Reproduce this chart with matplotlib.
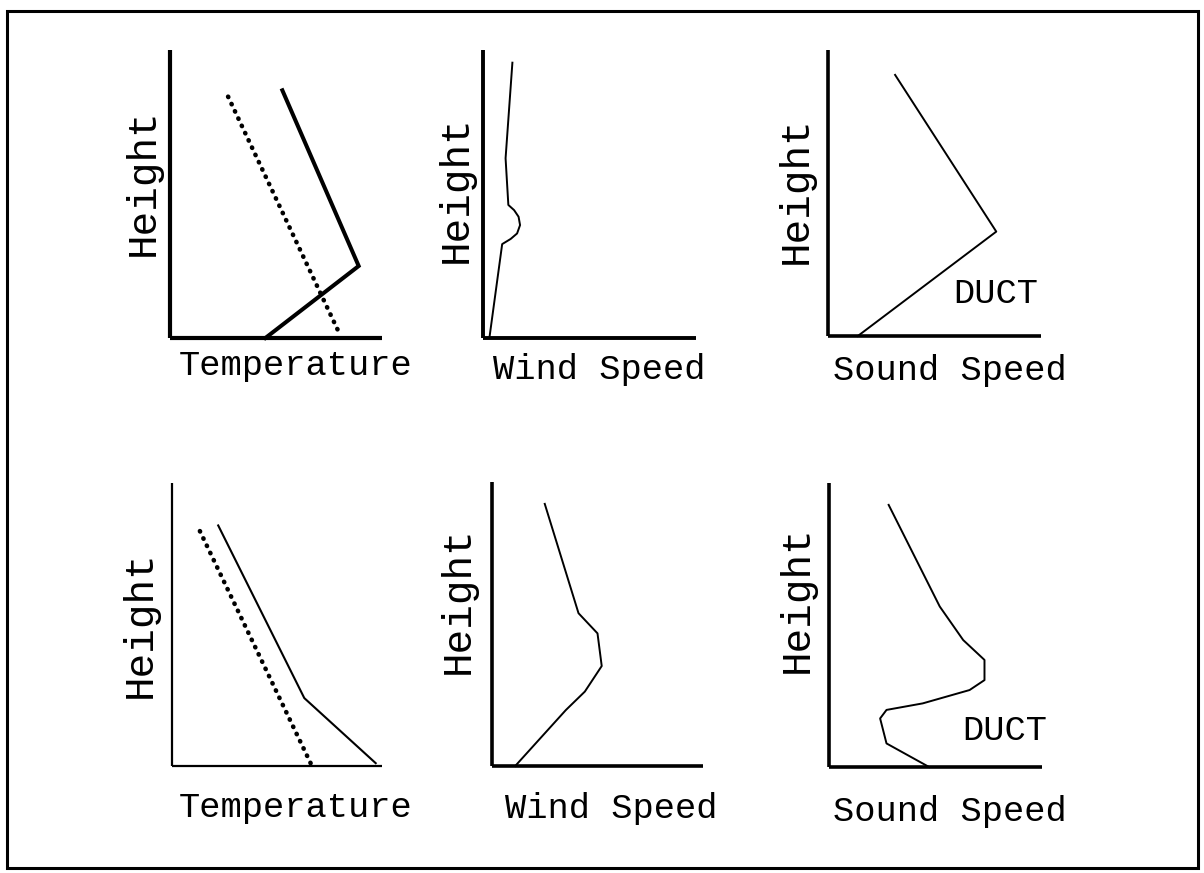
import matplotlib.pyplot as plt
from matplotlib.patches import Rectangle

# profile data, x and height both on a 0-100 schematic scale
# top row: nocturnal inversion
t1_env_x = [45, 89, 53]
t1_env_h = [0, 25, 86]
t1_adiab_x = [79, 26]
t1_adiab_h = [3, 86]

w1_x = [3, 9, 13, 16, 17.4, 16.7, 14.6, 11.9, 10.6, 13.8]
w1_h = [0, 32.6, 34.4, 36.3, 39.2, 42.1, 44.4, 46.2, 62.4, 95.6]

s1_x = [14, 79, 31.5]
s1_h = [0, 36.5, 91.3]

# bottom row: daytime / low-level jet
t2_env_x = [97, 63, 22]
t2_env_h = [1, 24, 85]
t2_adiab_x = [66, 12]
t2_adiab_h = [1, 85]

w2_x = [11, 35, 44, 52, 50, 41, 25]
w2_h = [0, 19.7, 26.2, 35.2, 46.7, 53.8, 92.3]

s2_x = [47, 27, 24, 27, 44, 66, 73, 73, 63, 52, 28]
s2_h = [0, 8.3, 17.1, 20.1, 22.4, 27.1, 30.6, 37.7, 44.7, 56.5, 92.3]

W, H = 1204, 873
fig = plt.figure(figsize=(W / 100, H / 100), dpi=100)
plt.rcParams['font.family'] = ['Liberation Mono', 'DejaVu Sans Mono']

# outer frame
fig.patches.append(Rectangle((7 / W, 1 - 868 / H), 1191 / W, 857 / H,
                             transform=fig.transFigure, fill=False,
                             edgecolor='black', linewidth=2.2))


def make_ax(left, right, top, bottom, spine_lw):
    ax = fig.add_axes([left / W, 1 - bottom / H, (right - left) / W, (bottom - top) / H])
    ax.set_xlim(0, 100)
    ax.set_ylim(0, 100)
    ax.set_xticks([])
    ax.set_yticks([])
    for s in ['top', 'right']:
        ax.spines[s].set_visible(False)
    for s in ['left', 'bottom']:
        ax.spines[s].set_linewidth(spine_lw)
        ax.spines[s].set_capstyle('butt')
    ax.patch.set_alpha(0)
    return ax


def labels(ax, xlab, xx, xy, hx, hy, hsize=29.5, xsize=25.5):
    ax.text(hx, hy, 'Height', rotation=90, ha='center', va='center',
            fontsize=hsize, transform=ax.transAxes)
    ax.text(xx, xy, xlab, ha='left', va='center', fontsize=xsize,
            transform=ax.transAxes)


dot = dict(linestyle=(0, (0.1, 1.65)), dash_capstyle='round', color='black', clip_on=False)

# panel 1
ax1 = make_ax(170, 382, 50, 338, 3.0)
ax1.plot(t1_env_x, t1_env_h, color='black', lw=2.9, clip_on=False, solid_joinstyle='miter')
ax1.plot(t1_adiab_x, t1_adiab_h, lw=3.3, **dot)
labels(ax1, 'Temperature', 0.04, -0.094, -0.13, 0.54)

# panel 2
ax2 = make_ax(483, 696, 50, 338, 2.8)
ax2.plot(w1_x, w1_h, color='black', lw=1.4, clip_on=False)
labels(ax2, 'Wind Speed', 0.047, -0.11, -0.13, 0.517)

# panel 3
ax3 = make_ax(828, 1041, 50, 336, 2.6)
ax3.plot(s1_x, s1_h, color='black', lw=1.4, clip_on=False)
labels(ax3, 'Sound Speed', 0.023, -0.122, -0.15, 0.51)
ax3.text(0.587, 0.15, 'DUCT', ha='left', va='center', fontsize=25.5, transform=ax3.transAxes)

# panel 4
ax4 = make_ax(172, 382, 483, 766, 1.6)
ax4.plot(t2_env_x, t2_env_h, color='black', lw=1.5, clip_on=False)
ax4.plot(t2_adiab_x, t2_adiab_h, lw=3.3, **dot)
labels(ax4, 'Temperature', 0.03, -0.148, -0.152, 0.50)

# panel 5
ax5 = make_ax(492, 703, 482, 766, 2.6)
ax5.plot(w2_x, w2_h, color='black', lw=1.4, clip_on=False)
labels(ax5, 'Wind Speed', 0.06, -0.148, -0.16, 0.585)

# panel 6
ax6 = make_ax(829, 1042, 483, 767, 2.6)
ax6.plot(s2_x, s2_h, color='black', lw=1.4, clip_on=False)
labels(ax6, 'Sound Speed', 0.02, -0.158, -0.15, 0.59)
ax6.text(0.624, 0.13, 'DUCT', ha='left', va='center', fontsize=25.5, transform=ax6.transAxes)

fig.savefig('out.png', dpi=100)
